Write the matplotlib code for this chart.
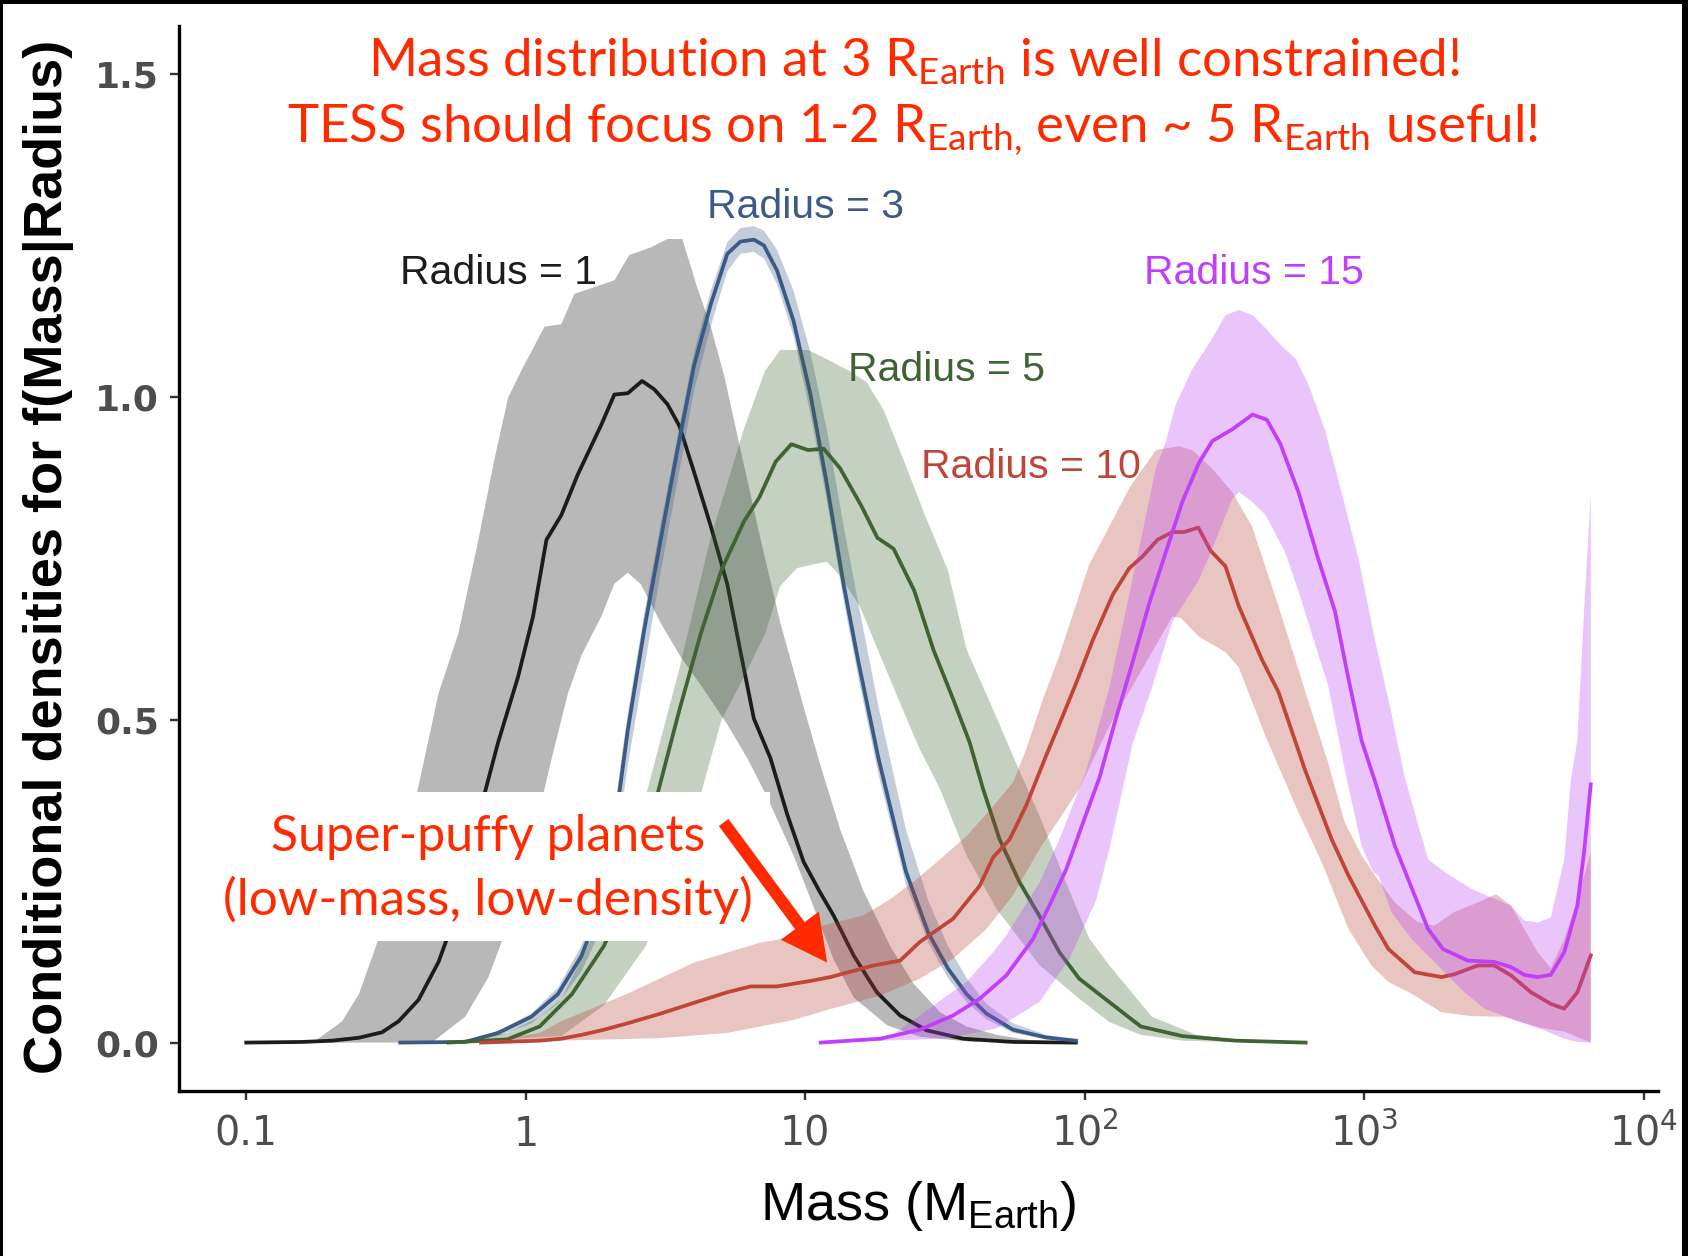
import numpy as np
import matplotlib
matplotlib.use('Agg')
import matplotlib.pyplot as plt
from matplotlib.patches import Rectangle, FancyArrowPatch

plt.rcParams['mathtext.fontset'] = 'custom'
plt.rcParams['mathtext.rm'] = 'Lato'
plt.rcParams['mathtext.sf'] = 'Liberation Sans'
plt.rcParams['mathtext.it'] = 'Lato:italic'
plt.rcParams['mathtext.bf'] = 'Lato:bold'

# ---------------- data (log10 mass, density) ----------------
# Radius = 1
r1_line_lm = [-1.0, -0.8, -0.692, -0.597, -0.514, -0.455, -0.384, -0.312, -0.241, -0.194, -0.146, -0.099,
              -0.028, 0.026, 0.074, 0.127, 0.186, 0.27, 0.317, 0.365, 0.416, 0.46, 0.507, 0.55, 0.602,
              0.662, 0.721, 0.768, 0.816, 0.875, 0.935, 0.994, 1.05, 1.101, 1.173, 1.256, 1.339, 1.434,
              1.565, 1.743, 1.968]
r1_line = [0.0, 0.001, 0.003, 0.0075, 0.016, 0.033, 0.066, 0.125, 0.21, 0.286, 0.388, 0.465,
           0.566, 0.66, 0.779, 0.817, 0.88, 0.957, 1.004, 1.006, 1.025, 1.012, 0.989, 0.955, 0.884,
           0.8, 0.71, 0.606, 0.502, 0.441, 0.354, 0.28, 0.235, 0.197, 0.135, 0.078, 0.042, 0.019,
           0.006, 0.001, 0.0]
r1_up_lm = [-1.0, -0.85, -0.752, -0.657, -0.597, -0.514, -0.431, -0.384, -0.312, -0.241, -0.17, -0.111,
            -0.063, -0.016, 0.067, 0.127, 0.174, 0.317, 0.37, 0.447, 0.507, 0.56, 0.614, 0.662, 0.71,
            0.768, 0.84, 0.911, 0.994, 1.054, 1.125, 1.208, 1.303, 1.386, 1.482, 1.577, 1.684, 1.8, 1.968]
r1_up = [0.0, 0.001, 0.003, 0.033, 0.075, 0.176, 0.303, 0.397, 0.541, 0.634, 0.778, 0.906,
         0.999, 1.041, 1.109, 1.113, 1.16, 1.181, 1.22, 1.232, 1.245, 1.245, 1.169, 1.109, 1.033,
         0.919, 0.78, 0.65, 0.52, 0.43, 0.33, 0.235, 0.15, 0.092, 0.047, 0.025, 0.012, 0.004, 0.0]
r1_lo_lm = [-1.0, -0.336, -0.217, -0.134, -0.039, 0.032, 0.092, 0.151, 0.199, 0.27, 0.317, 0.365, 0.412,
            0.484, 0.555, 0.626, 0.721, 0.792, 0.864, 0.958, 1.03, 1.1, 1.173, 1.292, 1.41, 1.6, 1.968]
r1_lo = [0.0, 0.0, 0.04, 0.101, 0.21, 0.329, 0.439, 0.541, 0.6, 0.66, 0.711, 0.728, 0.71,
         0.649, 0.597, 0.554, 0.493, 0.441, 0.38, 0.29, 0.21, 0.13, 0.07, 0.027, 0.009, 0.001, 0.0]

# Radius = 3
r3_lm = [-0.449, -0.217, -0.099, 0.02, 0.115, 0.199, 0.258, 0.317, 0.365, 0.424, 0.483, 0.543, 0.602,
         0.662, 0.721, 0.768, 0.816, 0.852, 0.899, 0.958, 1.018, 1.077, 1.137, 1.19, 1.262, 1.36, 1.44,
         1.51, 1.577, 1.648, 1.743, 1.861, 1.968]
r3_line = [0.0, 0.001, 0.015, 0.04, 0.075, 0.134, 0.2, 0.33, 0.484, 0.64, 0.78, 0.919, 1.049,
           1.144, 1.222, 1.241, 1.244, 1.235, 1.196, 1.118, 1.005, 0.866, 0.71, 0.59, 0.44, 0.265, 0.17,
           0.115, 0.075, 0.045, 0.02, 0.008, 0.003]
r3_up = [0.0, 0.002, 0.018, 0.045, 0.085, 0.15, 0.225, 0.36, 0.51, 0.665, 0.805, 0.94, 1.07,
         1.165, 1.24, 1.262, 1.265, 1.258, 1.228, 1.165, 1.07, 0.95, 0.8, 0.68, 0.52, 0.33, 0.22,
         0.15, 0.1, 0.06, 0.03, 0.012, 0.004]
r3_lo = [0.0, 0.0, 0.01, 0.03, 0.06, 0.11, 0.165, 0.28, 0.43, 0.58, 0.73, 0.87, 1.01,
         1.11, 1.195, 1.222, 1.225, 1.215, 1.175, 1.095, 0.975, 0.84, 0.685, 0.565, 0.415, 0.245, 0.155,
         0.1, 0.063, 0.036, 0.015, 0.005, 0.002]

# Radius = 5
r5_line_lm = [-0.276, -0.066, 0.05, 0.165, 0.28, 0.395, 0.47, 0.55, 0.625, 0.70, 0.78, 0.836, 0.894,
              0.95, 1.01, 1.066, 1.124, 1.2, 1.258, 1.316, 1.39, 1.458, 1.529, 1.588, 1.636, 1.695,
              1.767, 1.838, 1.909, 1.98, 2.087, 2.2, 2.35, 2.54, 2.79]
r5_line = [0.0, 0.005, 0.025, 0.075, 0.15, 0.266, 0.383, 0.516, 0.632, 0.732, 0.807, 0.845, 0.9,
           0.927, 0.918, 0.92, 0.89, 0.832, 0.782, 0.765, 0.7, 0.609, 0.532, 0.465, 0.393, 0.315,
           0.248, 0.196, 0.14, 0.099, 0.063, 0.025, 0.01, 0.003, 0.0]
r5_up_lm = [-0.276, -0.066, 0.05, 0.127, 0.28, 0.43, 0.55, 0.66, 0.78, 0.855, 0.91, 1.01, 1.085, 1.16,
            1.22, 1.28, 1.354, 1.43, 1.51, 1.577, 1.672, 1.743, 1.838, 1.933, 2.016, 2.087, 2.24, 2.4,
            2.54, 2.79]
r5_up = [0.0, 0.015, 0.04, 0.067, 0.2, 0.383, 0.58, 0.78, 0.95, 1.04, 1.073, 1.073, 1.057, 1.04,
         1.023, 0.98, 0.9, 0.815, 0.732, 0.609, 0.516, 0.444, 0.351, 0.248, 0.161, 0.12, 0.04, 0.012,
         0.004, 0.0]
r5_lo_lm = [-0.276, 0.127, 0.28, 0.43, 0.55, 0.625, 0.70, 0.78, 0.855, 0.91, 0.97, 1.02, 1.078, 1.13,
            1.196, 1.268, 1.339, 1.41, 1.482, 1.577, 1.684, 1.838, 1.98, 2.087, 2.2, 2.35, 2.6]
r5_lo = [0.0, 0.01, 0.058, 0.15, 0.283, 0.383, 0.5, 0.566, 0.632, 0.707, 0.735, 0.74, 0.745, 0.72,
         0.675, 0.6, 0.526, 0.454, 0.393, 0.29, 0.207, 0.12, 0.068, 0.032, 0.012, 0.003, 0.0]

# Radius = 10
r10_line_lm = [-0.16, 0.05, 0.127, 0.2, 0.28, 0.365, 0.483, 0.626, 0.721, 0.804, 0.899, 1.018, 1.09,
               1.137, 1.244, 1.339, 1.41, 1.529, 1.624, 1.672, 1.731, 1.79, 1.861, 1.921, 1.969, 2.028,
               2.1, 2.159, 2.206, 2.26, 2.313, 2.355, 2.406, 2.45, 2.503, 2.551, 2.634, 2.693, 2.788,
               2.883, 2.943, 3.038, 3.086, 3.18, 3.276, 3.323, 3.406, 3.465, 3.525, 3.596, 3.667,
               3.715, 3.762, 3.81]
r10_line = [0.0, 0.003, 0.006, 0.012, 0.02, 0.03, 0.045, 0.065, 0.078, 0.087, 0.087, 0.0955, 0.1015,
            0.107, 0.1195, 0.127, 0.156, 0.192, 0.243, 0.287, 0.315, 0.367, 0.444, 0.506, 0.557, 0.623,
            0.694, 0.735, 0.753, 0.779, 0.791, 0.791, 0.798, 0.762, 0.738, 0.676, 0.593, 0.543, 0.422,
            0.315, 0.259, 0.181, 0.145, 0.109, 0.1015, 0.106, 0.1195, 0.1195, 0.104, 0.078, 0.06,
            0.0525, 0.078, 0.135]
r10_up_lm = [-0.16, 0.05, 0.127, 0.365, 0.602, 0.84, 0.911, 1.077, 1.208, 1.303, 1.39, 1.482, 1.577,
             1.66, 1.743, 1.79, 1.85, 1.909, 2.016, 2.088, 2.159, 2.254, 2.337, 2.385, 2.456, 2.527,
             2.598, 2.693, 2.8, 2.871, 2.93, 2.99, 3.038, 3.109, 3.19, 3.25, 3.32, 3.406, 3.471, 3.525,
             3.572, 3.62, 3.667, 3.715, 3.762, 3.81]
r10_up = [0.0, 0.015, 0.033, 0.076, 0.124, 0.155, 0.16, 0.183, 0.197, 0.222, 0.25, 0.284, 0.32,
          0.36, 0.403, 0.454, 0.532, 0.6, 0.741, 0.8, 0.859, 0.918, 0.924, 0.918, 0.889, 0.853,
          0.8, 0.676, 0.528, 0.433, 0.341, 0.29, 0.259, 0.217, 0.187, 0.181, 0.202, 0.217, 0.23, 0.212,
          0.176, 0.14, 0.115, 0.16, 0.222, 0.295]
r10_lo_lm = [-0.16, 0.483, 0.721, 0.958, 1.09, 1.268, 1.41, 1.529, 1.648, 1.743, 1.838, 1.885, 1.98,
             2.087, 2.194, 2.313, 2.343, 2.408, 2.503, 2.551, 2.646, 2.764, 2.848, 2.943, 3.026,
             3.086, 3.168, 3.276, 3.383, 3.5, 3.62, 3.715, 3.81]
r10_lo = [0.0, 0.007, 0.015, 0.035, 0.052, 0.073, 0.099, 0.13, 0.176, 0.228, 0.3, 0.331, 0.393,
          0.49, 0.57, 0.66, 0.658, 0.629, 0.605, 0.581, 0.475, 0.357, 0.279, 0.176, 0.119,
          0.094, 0.076, 0.047, 0.041, 0.04, 0.024, 0.017, 0.0]

# Radius = 15
r15_line_lm = [1.055, 1.268, 1.41, 1.529, 1.624, 1.719, 1.814, 1.874, 1.934, 1.993, 2.052, 2.11, 2.17,
               2.23, 2.29, 2.349, 2.408, 2.456, 2.527, 2.6, 2.651, 2.699, 2.765, 2.836, 2.895, 2.943,
               2.99, 3.038, 3.109, 3.18, 3.228, 3.281, 3.37, 3.465, 3.525, 3.572, 3.62, 3.667, 3.715,
               3.762, 3.786, 3.81]
r15_line = [0.0, 0.006, 0.02, 0.042, 0.068, 0.104, 0.16, 0.213, 0.269, 0.34, 0.41, 0.5, 0.588,
            0.68, 0.76, 0.838, 0.898, 0.932, 0.95, 0.973, 0.965, 0.928, 0.852, 0.748, 0.668, 0.564,
            0.468, 0.405, 0.305, 0.228, 0.176, 0.145, 0.127, 0.125, 0.117, 0.105, 0.1015, 0.105, 0.14,
            0.212, 0.295, 0.4]
r15_up_lm = [1.055, 1.3, 1.41, 1.482, 1.577, 1.672, 1.719, 1.838, 1.909, 2.004, 2.088, 2.147, 2.206,
             2.254, 2.289, 2.325, 2.384, 2.456, 2.503, 2.551, 2.6, 2.646, 2.705, 2.753, 2.8, 2.86,
             2.919, 2.98, 3.04, 3.098, 3.145, 3.228, 3.288, 3.383, 3.454, 3.525, 3.572, 3.62, 3.667,
             3.715, 3.739, 3.762, 3.786, 3.81]
r15_up = [0.0, 0.008, 0.042, 0.065, 0.094, 0.14, 0.166, 0.248, 0.315, 0.42, 0.55, 0.67, 0.79,
          0.89, 0.93, 0.988, 1.043, 1.091, 1.127, 1.135, 1.127, 1.107, 1.079, 1.06, 1.02, 0.948,
          0.852, 0.748, 0.62, 0.508, 0.41, 0.284, 0.264, 0.238, 0.225, 0.212, 0.189, 0.186, 0.194,
          0.284, 0.408, 0.468, 0.668, 0.85]
r15_lo_lm = [1.055, 1.5, 1.684, 1.838, 1.945, 2.04, 2.088, 2.171, 2.242, 2.313, 2.408, 2.456, 2.527,
             2.551, 2.598, 2.646, 2.717, 2.764, 2.871, 2.937, 2.99, 3.032, 3.05, 3.097, 3.168, 3.264,
             3.358, 3.43, 3.525, 3.643, 3.715, 3.762, 3.81]
r15_lo = [0.0, 0.006, 0.022, 0.063, 0.13, 0.22, 0.3, 0.463, 0.552, 0.652, 0.717, 0.765, 0.842,
          0.853, 0.838, 0.818, 0.759, 0.70, 0.552, 0.408, 0.305, 0.264, 0.259, 0.202, 0.161, 0.119,
          0.078, 0.0525, 0.037, 0.019, 0.006, 0.001, 0.0]

radius_labels = ['Radius = 1', 'Radius = 3', 'Radius = 5', 'Radius = 10', 'Radius = 15']
label_pos_lm = [-0.096, 1.001, 1.504, 1.807, 2.605]
label_pos_y = [1.175, 1.277, 1.025, 0.875, 1.175]

x_ticks = [0.1, 1, 10, 100, 1000, 10000]
x_ticklabels = ['0.1', '1', '10', r'$\mathregular{10^{2}}$', r'$\mathregular{10^{3}}$',
                r'$\mathregular{10^{4}}$']
y_ticks = [0.0, 0.5, 1.0, 1.5]
y_ticklabels = ['0.0', '0.5', '1.0', '1.5']

# ---------------- styles ----------------
line_colors = ['#1c1c1c', '#3b5a86', '#3f6332', '#bf4538', '#c03ffb']
fill_colors = ['#3a3a3d', '#3b5a86', '#3d6530', '#b84036', '#ba40f5']
fill_alphas = [0.36, 0.3, 0.3, 0.3, 0.3]
label_colors = ['#1c1c1c', '#3b5a86', '#3f6332', '#bf4538', '#c03ffb']
RED = '#ff2a00'

W, H = 1688, 1256
fig = plt.figure(figsize=(W / 100, H / 100), dpi=100)
ax_l, ax_r, ax_t, ax_b = 179, 1658, 26, 1091
ax = fig.add_axes([ax_l / W, 1 - ax_b / H, (ax_r - ax_l) / W, (ax_b - ax_t) / H])
ax.set_xscale('log')
ax.set_xlim(10 ** -1.2405, 10 ** 4.0505)
ax.set_ylim(-0.075, 1.575)

series = [
    (r1_line_lm, r1_line, r1_up_lm, r1_up, r1_lo_lm, r1_lo),
    (r3_lm, r3_line, r3_lm, r3_up, r3_lm, r3_lo),
    (r5_line_lm, r5_line, r5_up_lm, r5_up, r5_lo_lm, r5_lo),
    (r10_line_lm, r10_line, r10_up_lm, r10_up, r10_lo_lm, r10_lo),
    (r15_line_lm, r15_line, r15_up_lm, r15_up, r15_lo_lm, r15_lo),
]
for i, (llm, ly, ulm, uy, dlm, dy) in enumerate(series):
    xs = np.concatenate([10 ** np.array(ulm), (10 ** np.array(dlm))[::-1]])
    ys = np.concatenate([np.array(uy), np.array(dy)[::-1]])
    ax.fill(xs, ys, color=fill_colors[i], alpha=fill_alphas[i], lw=0, zorder=2 + 2 * i)
    ax.plot(10 ** np.array(llm), ly, color=line_colors[i], lw=2.7, zorder=3 + 2 * i,
            solid_joinstyle='round')

for i, t in enumerate(radius_labels):
    ax.text(10 ** label_pos_lm[i], label_pos_y[i], t, color=label_colors[i], ha='center',
            va='baseline', fontsize=29.5, family='Liberation Sans', zorder=30)

# spines / ticks
for s in ['top', 'right']:
    ax.spines[s].set_visible(False)
for s in ['left', 'bottom']:
    ax.spines[s].set_linewidth(2.4)
    ax.spines[s].set_color('black')
ax.minorticks_off()
ax.set_xticks(x_ticks)
ax.set_xticklabels(x_ticklabels)
ax.set_yticks(y_ticks)
ax.set_yticklabels(y_ticklabels)
ax.tick_params(axis='both', which='major', length=6.5, width=1.7, color='#333333')
ax.tick_params(axis='y', pad=8, labelcolor='#4d4d4d')
ax.tick_params(axis='x', pad=33, labelcolor='#4d4d4d')
for lbl in ax.get_yticklabels():
    lbl.set_fontfamily('DejaVu Sans')
    lbl.set_fontweight('bold')
    lbl.set_fontsize(26)
for lbl in ax.get_xticklabels():
    lbl.set_fontfamily('DejaVu Sans')
    lbl.set_fontsize(28.5)
    lbl.set_verticalalignment('baseline')

# axis titles
fig.text(918 / W, 1 - 1220 / H, r'Mass (M$_{\mathsf{Earth}}$)', ha='center', va='baseline',
         fontsize=39, family='Liberation Sans')
fig.text(49 / W, 1 - 557 / H, 'Conditional densities for f(Mass|Radius)', rotation=90,
         ha='center', va='center', fontsize=39, fontweight='bold', family='Liberation Sans')

# red headline
fig.text(914 / W, 1 - 77 / H, r'Mass distribution at 3 R$_{\mathrm{Earth}}$ is well constrained!',
         ha='center', va='baseline', fontsize=38, family='Lato', color=RED)
fig.text(913 / W, 1 - 142 / H,
         r'TESS should focus on 1-2 R$_{\mathrm{Earth,}}\,$even ~ 5 R$_{\mathrm{Earth}}$ useful!',
         ha='center', va='baseline', fontsize=38, family='Lato', color=RED)

# white box + annotation
bx0, bx1 = 10 ** -1.12, 10 ** 0.872
ax.add_patch(Rectangle((bx0, 0.158), bx1 - bx0, 0.388 - 0.158, facecolor='white',
                       edgecolor='none', zorder=20))
ax.text(10 ** -0.135, 0.297, 'Super-puffy planets', ha='center', va='baseline', fontsize=36,
        family='Lato', color=RED, zorder=21)
ax.text(10 ** -0.135, 0.197, '(low-mass, low-density)', ha='center', va='baseline', fontsize=37,
        family='Lato', color=RED, zorder=21)
arr = FancyArrowPatch(posA=(10 ** 0.708, 0.341), posB=(10 ** 1.078, 0.124),
                      arrowstyle='simple,head_length=33,head_width=34,tail_width=8.6',
                      mutation_scale=1, shrinkA=0, shrinkB=0, color=RED, lw=0, zorder=22)
ax.add_patch(arr)

# outer frame
fig.add_artist(Rectangle((0, 0), 3 / W, 1, transform=fig.transFigure, color='black', lw=0))
fig.add_artist(Rectangle((0, 1 - 4 / H), 1, 4 / H, transform=fig.transFigure, color='black', lw=0))
fig.add_artist(Rectangle((1 - 6 / W, 0), 6 / W, 1, transform=fig.transFigure, color='black', lw=0))

fig.savefig('out.png', dpi=100, facecolor='white')
